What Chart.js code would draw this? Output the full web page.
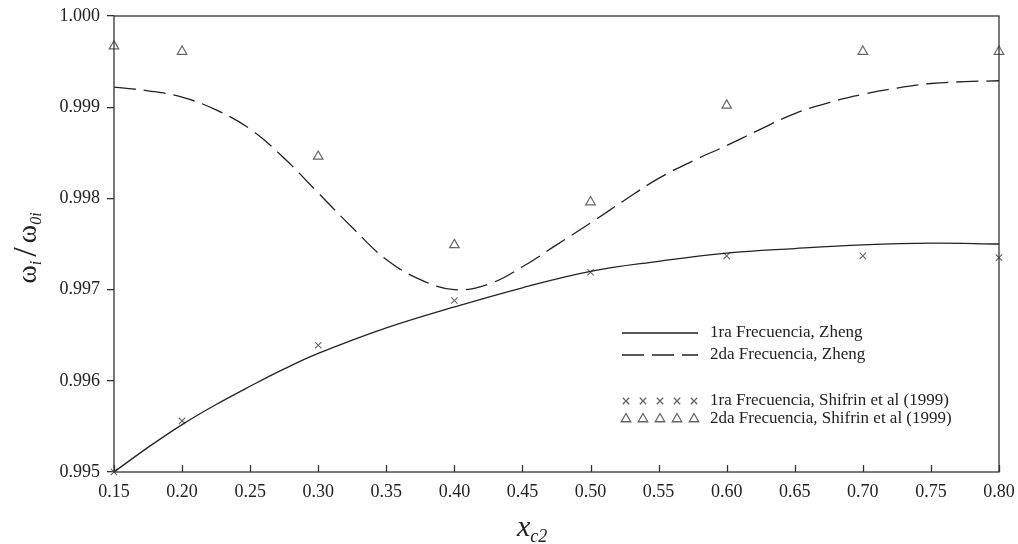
<!DOCTYPE html>
<html>
<head>
<meta charset="utf-8">
<script src="https://cdn.jsdelivr.net/npm/chart.js@4.4.0/dist/chart.umd.min.js"></script>
<style>
  html, body { margin: 0; padding: 0; background: #fff; }
  canvas { display: block; }
</style>
</head>
<body>
<canvas id="chart" width="1018" height="544"></canvas>
<script>
    /* data */
    const xTicks = [0.15, 0.20, 0.25, 0.30, 0.35, 0.40, 0.45, 0.50, 0.55, 0.60, 0.65, 0.70, 0.75, 0.80];
    const yTicks = [0.995, 0.996, 0.997, 0.998, 0.999, 1.000];

    // Zheng curves
    const curve1X = [0.15, 0.175, 0.20, 0.225, 0.25, 0.275, 0.30, 0.35, 0.40, 0.45, 0.50, 0.55, 0.60, 0.65, 0.70, 0.75, 0.80];
    const curve1Y = [0.99500, 0.99527, 0.99552, 0.99574, 0.99594, 0.99613, 0.99630, 0.99658, 0.99681, 0.99702, 0.99720, 0.99731, 0.99740, 0.99745, 0.99749, 0.99751, 0.99750];

    const curve2X = [0.15, 0.175, 0.20, 0.225, 0.25, 0.275, 0.30, 0.325, 0.35, 0.375, 0.40, 0.425, 0.45, 0.475, 0.50, 0.525, 0.55, 0.575, 0.60, 0.625, 0.65, 0.675, 0.70, 0.725, 0.75, 0.775, 0.80];
    const curve2Y = [0.99922, 0.99918, 0.99911, 0.99897, 0.99876, 0.99844, 0.99806, 0.99768, 0.99733, 0.99711, 0.99700, 0.99706, 0.99725, 0.99749, 0.99773, 0.99798, 0.99822, 0.99841, 0.99858, 0.99876, 0.99893, 0.99905, 0.99914, 0.99921, 0.99926, 0.99928, 0.99929];

    // Shifrin et al (1999)
    const shifrinX = [0.15, 0.20, 0.30, 0.40, 0.50, 0.60, 0.70, 0.80];
    const shifrin1 = [0.99500, 0.99556, 0.99639, 0.99688, 0.99719, 0.99737, 0.99737, 0.99735];
    const shifrin2 = [0.99967, 0.99961, 0.99846, 0.99749, 0.99796, 0.99902, 0.99961, 0.99961];

    const legendLabels = [
        '1ra Frecuencia, Zheng',
        '2da Frecuencia, Zheng',
        '1ra Frecuencia, Shifrin et al (1999)',
        '2da Frecuencia, Shifrin et al (1999)'
    ];

    const pts = (xs, ys) => xs.map((x, i) => ({ x: x, y: ys[i] }));
    const SERIF = '"Liberation Serif", "DejaVu Serif", serif';
    const INK = '#222';
    const GREY = '#666';

    // box, inward x ticks, axis titles, legend
    const decorations = {
        id: 'decorations',
        afterDraw(chart) {
            const ctx = chart.ctx;
            const a = chart.chartArea;
            const xs = chart.scales.x;
            ctx.save();
            ctx.strokeStyle = '#333';
            ctx.lineWidth = 1.3;
            ctx.strokeRect(a.left, a.top, a.right - a.left, a.bottom - a.top);

            // x ticks point into the plot
            ctx.beginPath();
            xTicks.forEach(v => {
                const px = Math.round(xs.getPixelForValue(v)) + 0.5;
                ctx.moveTo(px, a.bottom);
                ctx.lineTo(px, a.bottom - 7);
            });
            ctx.stroke();

            // x title
            ctx.fillStyle = INK;
            ctx.textBaseline = 'alphabetic';
            ctx.textAlign = 'left';
            ctx.font = 'italic 30px ' + SERIF;
            ctx.fillText('x', 517, 536);
            const wx = ctx.measureText('x').width;
            ctx.font = 'italic 18px ' + SERIF;
            ctx.fillText('c2', 517 + wx, 542);

            // y title, rotated
            ctx.save();
            ctx.translate(36, 248);
            ctx.rotate(-Math.PI / 2);
            const parts = [
                { t: '\u03C9', f: '28px ' + SERIF, dy: 0 },
                { t: 'i', f: 'italic 16px ' + SERIF, dy: 5 },
                { t: '/', f: '34px ' + SERIF, dy: 0, pad: 4 },
                { t: '\u03C9', f: '28px ' + SERIF, dy: 0 },
                { t: '0i', f: 'italic 16px ' + SERIF, dy: 5 }
            ];
            let total = 0;
            parts.forEach(p => { ctx.font = p.f; p.w = ctx.measureText(p.t).width + (p.pad || 0) * 2; total += p.w; });
            let cx = -total / 2;
            parts.forEach(p => {
                ctx.font = p.f;
                ctx.fillText(p.t, cx + (p.pad || 0), p.dy);
                cx += p.w;
            });
            ctx.restore();

            // legend
            ctx.font = '17px ' + SERIF;
            ctx.textBaseline = 'middle';
            ctx.fillStyle = INK;
            const rows = [333, 355, 401, 419];
            const lx0 = 622, lx1 = 698, tx = 710;

            ctx.strokeStyle = INK;
            ctx.lineWidth = 1.3;
            ctx.beginPath();
            ctx.moveTo(lx0, rows[0]); ctx.lineTo(lx1, rows[0]);
            ctx.stroke();
            ctx.setLineDash([22, 8]);
            ctx.beginPath();
            ctx.moveTo(lx0, rows[1]); ctx.lineTo(lx1, rows[1]);
            ctx.stroke();
            ctx.setLineDash([]);

            [626, 643, 660, 677, 694].forEach(px => {
                ctx.strokeStyle = GREY;
                Chart.helpers.drawPoint(ctx, { pointStyle: 'crossRot', radius: 4.5, rotation: 0, borderWidth: 1.1 }, px, rows[2]);
                ctx.fillStyle = 'rgba(0,0,0,0)';
                Chart.helpers.drawPoint(ctx, { pointStyle: 'triangle', radius: 5.5, rotation: 0, borderWidth: 1.2 }, px, rows[3]);
            });

            ctx.fillStyle = INK;
            legendLabels.forEach((t, i) => ctx.fillText(t, tx, rows[i]));
            ctx.restore();
        }
    };

    new Chart(document.getElementById('chart'), {
        type: 'scatter',
        data: {
            datasets: [{
                label: legendLabels[0],
                data: pts(curve1X, curve1Y),
                showLine: true,
                borderColor: INK,
                borderWidth: 1.3,
                pointRadius: 0,
                tension: 0.4
            }, {
                label: legendLabels[1],
                data: pts(curve2X, curve2Y),
                showLine: true,
                borderColor: INK,
                borderWidth: 1.3,
                borderDash: [22, 8],
                pointRadius: 0,
                tension: 0.4
            }, {
                label: legendLabels[2],
                data: pts(shifrinX, shifrin1),
                pointStyle: 'crossRot',
                pointRadius: 4.5,
                borderColor: GREY,
                borderWidth: 1.1
            }, {
                label: legendLabels[3],
                data: pts(shifrinX, shifrin2),
                pointStyle: 'triangle',
                pointRadius: 5.5,
                borderColor: GREY,
                backgroundColor: 'rgba(0,0,0,0)',
                borderWidth: 1.2
            }]
        },
        options: {
            responsive: false,
            animation: false,
            devicePixelRatio: 1,
            clip: false,
            layout: { padding: { top: 16, right: 19, left: 0, bottom: 0 } },
            plugins: {
                legend: { display: false },
                tooltip: { enabled: false }
            },
            scales: {
                x: {
                    type: 'linear',
                    min: 0.15,
                    max: 0.80,
                    afterFit: s => { s.height = 72; s.paddingLeft = 0; s.paddingRight = 0; },
                    afterBuildTicks: s => { s.ticks = xTicks.map(v => ({ value: v })); },
                    grid: { display: false, drawTicks: false },
                    border: { display: false },
                    ticks: {
                        color: INK,
                        padding: 9,
                        maxRotation: 0,
                        autoSkip: false,
                        font: { family: SERIF, size: 18 },
                        callback: v => v.toFixed(2)
                    }
                },
                y: {
                    type: 'linear',
                    min: 0.995,
                    max: 1.000,
                    afterFit: s => { s.width = 114; s.paddingTop = 0; s.paddingBottom = 0; },
                    afterBuildTicks: s => { s.ticks = yTicks.map(v => ({ value: v })); },
                    grid: { drawOnChartArea: false, drawTicks: true, tickLength: 7, color: '#333', lineWidth: 1.3 },
                    border: { display: false },
                    ticks: {
                        color: INK,
                        padding: 7,
                        autoSkip: false,
                        font: { family: SERIF, size: 18 },
                        callback: v => v.toFixed(3)
                    }
                }
            }
        },
        plugins: [decorations]
    });
</script>
</body>
</html>
